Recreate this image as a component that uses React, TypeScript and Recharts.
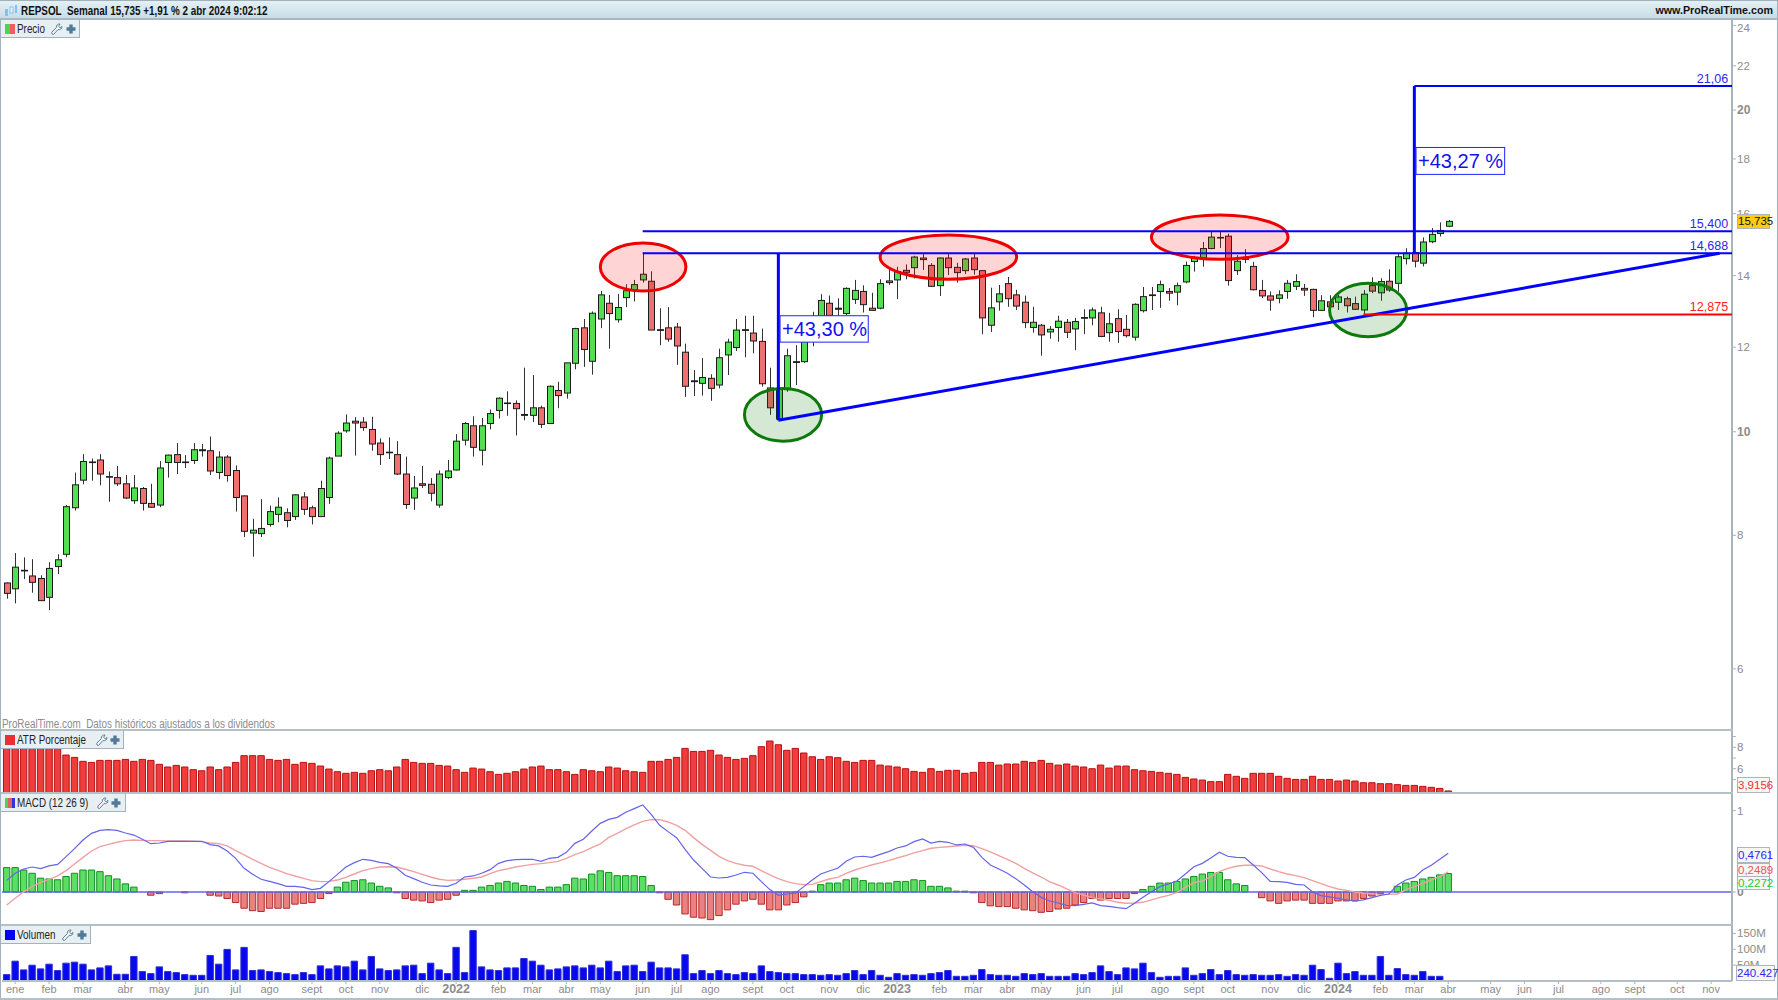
import React from 'react';
import { ComposedChart, Bar, Line, XAxis, YAxis, ReferenceLine, ReferenceArea, ReferenceDot, Cell } from 'recharts';

const opens = [7.22,7.13,7.41,7.33,7.29,7.00,7.48,7.68,8.49,9.01,
9.36,9.41,9.08,9.06,8.94,8.62,8.85,8.57,8.54,9.36,
9.52,9.36,9.40,9.60,9.60,9.16,9.47,9.20,8.71,8.04,
8.03,8.19,8.37,8.40,8.33,8.69,8.49,8.33,8.68,9.49,
10.02,10.23,10.21,10.05,9.76,9.57,9.52,9.13,8.67,8.94,
8.93,8.54,9.06,9.21,9.82,10.13,9.61,10.18,10.47,10.64,
10.63,10.38,10.36,10.53,10.18,10.93,10.87,11.59,12.51,11.64,
12.75,13.19,12.73,13.35,13.57,13.87,13.83,12.46,12.51,12.53,
11.87,11.16,11.10,11.22,11.06,11.80,11.99,12.46,12.37,12.15,
10.99,10.28,10.95,11.61,11.63,12.3,12.65,13.19,13.05,12.9,
13.30,13.53,13.05,13.05,13.84,13.87,14.16,14.24,14.54,14.31,
13.70,14.54,14.25,14.15,14.54,14.15,12.58,13.23,13.76,13.43,
13.22,12.52,12.58,12.40,12.52,12.66,12.48,12.79,12.78,12.92,
12.38,12.76,12.47,12.26,12.98,13.41,13.53,13.53,13.51,13.81,
14.43,14.53,14.84,15.18,15.24,14.15,14.50,14.28,13.56,13.40,
13.33,13.53,13.68,13.62,13.59,12.99,13.23,13.22,13.32,13.18,
13.00,13.70,13.49,13.83,13.77,14.52,14.71,14.38,15.06,15.33,15.57];
const highs = [7.23,7.70,7.63,7.60,7.34,7.55,7.68,8.54,9.16,9.53,
9.44,9.53,9.18,9.29,9.11,9.11,8.88,8.94,9.39,9.52,
9.76,9.51,9.76,9.74,9.90,9.59,9.51,9.30,8.72,8.29,
8.65,8.53,8.68,8.48,8.74,8.78,8.53,9.00,9.48,10.01,
10.38,10.32,10.32,10.33,9.86,9.88,9.80,9.48,9.09,9.29,
9.05,9.20,9.41,9.95,10.21,10.34,10.30,10.49,10.77,10.91,
10.70,11.48,11.30,10.58,11.05,11.14,11.60,12.51,12.75,12.96,
13.55,13.43,13.46,13.74,13.87,14.72,14.13,13.05,13.08,12.64,
12.09,11.42,11.72,11.32,11.96,12.22,12.75,12.84,12.84,12.49,
11.48,11.05,11.96,12.05,12.65,12.95,13.45,13.41,13.33,13.65,
13.87,13.71,13.49,13.89,14.19,14.27,14.34,14.61,14.69,14.38,
14.56,14.69,14.39,14.54,14.69,14.17,13.64,13.72,13.96,13.58,
13.41,13.09,12.61,12.56,12.84,12.75,12.78,13.02,13.07,13.09,
12.92,13.02,12.86,13.19,13.66,13.66,13.85,13.63,13.79,14.43,
14.61,15.05,15.40,15.40,15.32,14.63,14.82,14.42,13.87,13.53,
13.56,13.87,14.04,13.75,13.61,13.42,13.42,13.43,13.38,13.38,
13.57,13.95,13.92,14.19,14.69,14.85,14.74,15.20,15.51,15.70,15.78];
const lows = [6.98,6.91,7.28,7.07,6.95,6.81,7.36,7.63,8.44,8.93,
9.00,8.91,8.60,8.90,8.65,8.56,8.44,8.49,8.50,9.06,
9.13,9.25,9.33,9.48,9.11,9.03,8.98,8.42,7.97,7.64,
7.97,8.15,8.23,8.14,8.27,8.36,8.19,8.33,8.56,9.49,
9.98,9.50,10.02,9.60,9.31,9.43,9.11,8.47,8.45,8.86,
8.61,8.49,9.03,9.20,9.71,9.48,9.30,10.05,10.29,10.35,
9.92,10.25,10.21,10.08,10.18,10.52,10.74,11.44,11.50,11.31,
12.50,11.96,12.65,13.08,13.24,13.79,12.45,12.05,12.14,11.55,
10.78,10.80,10.81,10.69,10.98,11.30,11.90,11.74,11.84,11.02,
10.37,10.25,10.9,11.06,11.6,12.02,12.5,12.6,12.75,12.85,
13.17,12.93,12.98,13.02,13.72,13.31,13.89,13.91,14.17,13.66,
13.40,14.02,13.79,14.05,14.03,12.34,12.40,12.98,13.09,13.00,
12.50,12.38,11.78,12.22,12.14,12.24,11.92,12.34,12.58,12.26,
12.14,12.11,12.25,12.17,12.93,13.00,13.06,13.26,13.13,13.77,
14.12,14.27,14.82,14.86,13.70,14.02,14.38,13.56,13.34,12.98,
13.19,13.32,13.57,13.40,12.80,12.98,12.91,13.00,12.93,13.00,
12.875,13.48,13.26,13.52,13.52,14.34,14.25,14.28,15.01,15.23,15.54];
const closes = [7.06,7.47,7.42,7.23,6.95,7.45,7.59,8.51,8.92,9.38,
9.37,9.13,9.07,8.94,8.67,8.86,8.57,8.50,9.25,9.51,
9.36,9.37,9.62,9.62,9.19,9.47,9.10,8.68,8.07,8.09,
8.12,8.42,8.50,8.26,8.73,8.46,8.33,8.85,9.45,9.97,
10.19,10.19,10.09,9.74,9.52,9.56,9.13,8.55,8.86,8.91,
8.76,9.13,9.19,9.80,10.18,9.67,10.13,10.40,10.75,10.63,
10.51,10.36,10.53,10.16,11.03,10.81,11.60,12.49,11.94,12.91,
13.43,12.90,13.07,13.55,13.73,14.04,12.45,12.44,12.21,12.03,
11.03,11.14,11.24,10.98,11.73,12.13,12.45,12.44,12.16,11.09,
10.53,10.98,11.78,11.63,12.55,12.28,13.27,12.85,13.02,13.62,
13.56,13.15,12.99,13.76,13.79,14.12,14.10,14.57,14.49,13.68,
14.54,14.24,14.09,14.51,14.18,12.78,13.06,13.46,13.32,13.11,
12.65,12.66,12.32,12.47,12.69,12.39,12.68,12.77,13.00,12.28,
12.62,12.41,12.30,13.16,13.38,13.43,13.73,13.48,13.70,14.31,
14.53,14.84,15.21,15.20,13.85,14.44,14.52,13.58,13.40,13.28,
13.43,13.77,13.82,13.57,12.99,13.26,13.09,13.37,13.12,13.02,
13.45,13.54,13.82,13.57,14.58,14.69,14.44,15.05,15.30,15.43,15.735];
const atr = [7.9,7.9,7.9,7.9,7.9,7.9,7.9,7.28,7.06,6.69,
6.59,6.78,6.78,6.78,6.87,6.69,6.87,6.78,6.41,6.16,
6.31,6.16,5.91,5.81,6.16,5.91,6.16,6.59,7.22,7.22,
7.22,6.87,6.78,6.87,6.41,6.59,6.50,6.25,5.97,5.72,
5.57,5.66,5.57,5.81,5.91,5.81,6.16,6.87,6.59,6.50,
6.50,6.31,6.25,5.91,5.66,6.06,5.97,5.72,5.47,5.57,
5.72,5.97,6.16,6.25,5.91,5.91,5.72,5.47,5.91,5.81,
5.72,6.16,6.06,5.81,5.72,5.66,6.69,6.69,6.87,7.06,
7.90,7.62,7.62,7.72,7.28,7.06,6.87,6.97,7.22,8.06,
8.59,8.24,7.72,7.90,7.47,7.12,6.87,7.12,7.03,6.69,
6.59,6.78,6.78,6.34,6.25,6.16,6.00,5.75,5.66,6.00,
5.75,5.85,5.85,5.57,5.66,6.59,6.59,6.34,6.44,6.44,
6.69,6.59,6.78,6.50,6.34,6.44,6.25,6.16,6.00,6.34,
6.06,6.25,6.25,5.91,5.81,5.75,5.66,5.57,5.47,5.19,
5.04,4.94,4.79,4.79,5.47,5.29,5.10,5.57,5.57,5.57,
5.29,5.10,5.00,5.00,5.29,5.00,5.00,4.85,4.94,4.85,
4.69,4.69,4.60,4.60,4.51,4.44,4.44,4.35,4.26,4.16,3.92];
const macdHist = [.30,.30,.27,.23,.17,.16,.15,.19,.23,.27,
.27,.25,.20,.16,.10,.06,0,-.04,-.02,0,
0,-.01,0,0,-.04,-.05,-.08,-.13,-.20,-.23,
-.24,-.20,-.20,-.20,-.15,-.14,-.13,-.08,-.02,.06,
.12,.14,.15,.11,.07,.05,-.01,-.08,-.10,-.11,
-.13,-.10,-.09,-.04,.02,.02,.06,.08,.11,.13,
.11,.08,.07,.03,.06,.06,.09,.17,.16,.22,
.26,.24,.20,.20,.20,.19,.08,-.01,-.09,-.16,
-.27,-.31,-.32,-.34,-.29,-.22,-.15,-.11,-.09,-.15,
-.22,-.22,-.16,-.13,-.06,.01,.09,.11,.11,.15,
.17,.14,.11,.11,.11,.13,.13,.15,.14,.07,
.07,.05,.01,.01,-.01,-.13,-.17,-.18,-.18,-.20,
-.22,-.23,-.25,-.24,-.21,-.20,-.16,-.13,-.08,-.10,
-.08,-.08,-.08,-.02,.03,.07,.11,.11,.13,.16,
.19,.22,.24,.24,.15,.10,.08,0,-.07,-.11,
-.14,-.11,-.10,-.10,-.14,-.14,-.14,-.11,-.11,-.11,
-.08,-.05,-.02,0,.07,.11,.13,.16,.18,.21,.2272];
const macdLine = [.143,.23,.283,.307,.287,.32,.34,.434,.533,.639,
.721,.758,.766,.758,.725,.70,.648,.594,.602,.623,
.623,.623,.623,.623,.582,.566,.504,.414,.291,.217,
.156,.131,.102,.07,.07,.057,.029,.045,.127,.217,
.307,.361,.402,.389,.365,.348,.291,.205,.164,.119,
.086,.074,.07,.107,.184,.197,.23,.275,.352,.385,
.398,.402,.402,.377,.414,.426,.488,.598,.648,.75,
.844,.893,.918,.98,1.025,1.07,.955,.82,.742,.668,
.525,.393,.291,.184,.172,.18,.209,.242,.23,.127,
.029,-.041,-.025,-.016,.066,.148,.221,.258,.291,.377,
.43,.439,.426,.463,.496,.541,.566,.619,.652,.602,
.623,.611,.578,.59,.549,.426,.332,.283,.23,.164,
.086,.004,-.066,-.111,-.135,-.164,-.168,-.152,-.135,-.168,
-.176,-.193,-.205,-.139,-.066,.004,.066,.098,.135,.221,
.311,.352,.418,.488,.439,.426,.422,.332,.238,.131,
.127,.119,.094,.086,0,-.045,-.061,-.078,-.098,-.111,
-.098,-.07,-.041,-.025,.086,.148,.18,.27,.328,.402,.4761];
const macdSignal = [-.16,-.078,.004,.066,.119,.156,.197,.262,.344,.426,
.504,.557,.586,.611,.631,.639,.635,.631,.631,.627,
.627,.627,.623,.619,.602,.594,.566,.508,.455,.402,
.352,.303,.266,.225,.197,.168,.139,.127,.131,.148,
.18,.221,.262,.287,.307,.311,.307,.279,.25,.217,
.184,.156,.143,.148,.156,.168,.184,.225,.262,.283,
.307,.324,.34,.348,.361,.377,.414,.459,.496,.545,
.59,.672,.721,.775,.824,.869,.889,.889,.861,.82,
.758,.668,.586,.512,.439,.385,.352,.328,.316,.262,
.209,.164,.127,.102,.09,.094,.127,.16,.18,.23,
.27,.303,.332,.357,.385,.418,.447,.48,.508,.537,
.549,.557,.566,.574,.57,.533,.492,.447,.402,.352,
.291,.234,.184,.123,.086,.037,-.008,-.037,-.07,-.086,
-.102,-.127,-.139,-.135,-.127,-.098,-.066,-.041,-.004,.057,
.115,.135,.189,.25,.291,.316,.328,.328,.32,.283,
.25,.221,.201,.176,.139,.102,.066,.037,.02,0,
-.016,-.02,-.029,-.029,-.025,.025,.066,.107,.148,.189,.2489];
const volume = [20.1,62.5,35,49.8,38.2,53,32.9,56.2,59.4,53,
35,41.3,47.7,21.2,21.2,77.4,29.7,23.3,44.5,29.7,
26.5,20.1,18,18,80.6,53,99.6,35,106,32.9,
35,29.7,26.5,23.3,20.1,26.5,20.1,47.7,38.2,47.7,
44.5,62.5,35,77.4,38.2,32.9,35,47.7,49.8,23.3,
56.2,35,23.3,106,26.5,159,44.5,35,32.9,41.3,
41.3,71,62.5,49.8,35,38.2,44.5,47.7,41.3,49.8,
41.3,62.5,29.7,47.7,49.8,29.7,59.4,41.3,41.3,38.2,
82.7,23.3,32.9,23.3,32.9,23.3,20.1,26.5,23.3,47.7,
29.7,26.5,23.3,23.3,20.1,20.1,18,20.1,18,23.3,
32.9,20.1,32.9,18,11.7,23.3,18,20.1,18,23.3,
26.5,32.9,14.8,14.8,18,36,20.1,18,18,14.8,
23.3,20.1,23.3,14.8,14.8,14.8,23.3,20.1,26.5,47.7,
29.7,20.1,41.3,38.2,56.2,26.5,11.7,14.8,14.8,41.3,
18,23.3,36,20.1,32.9,20.1,18,20.1,18,18,
20.1,14.8,20.1,18,49.8,36,8.5,56.2,23.3,29.7,
18,18,77.4,18,39.2,20.1,18,29.7,14.8,14.8,.24];

const monthTicks = [1,5,9,14,18,23,27,31,36,40,44,49,53,58,62,66,70,75,79,83,88,92,97,101,105,110,114,118,122,127,131,136,140,144,149,153,157,162,166,170,175,179,183,188,192,197,201];
const monthLabels = ['ene','feb','mar','abr','may','jun','jul','ago','sept','oct','nov','dic','2022','feb','mar','abr','may','jun','jul','ago','sept','oct','nov','dic','2023','feb','mar','abr','may','jun','jul','ago','sept','oct','nov','dic','2024','feb','mar','abr','may','jun','jul','ago','sept','oct','nov'];

const priceTicks = [6,8,10,12,14,16,18,20,22,24];
const atrTicks = [5,6,7,8,9];
const macdTicks = [0,1];
const volTicks = [50,100,150];

const W = 1778;
const xDomain: [number, number] = [-0.554, 203.46];
const priceDomain: [number, number] = [5.26, 24.28];
const FONT = '"Liberation Sans", Arial, sans-serif';
const BLUE = '#0000ff';
const GREY = '#8c8c8c';

const priceRows = opens.map((o, i) => ({ i, o, h: highs[i], l: lows[i], c: closes[i], range: [lows[i], highs[i]] }));
const atrRows = atr.map((v, i) => ({ i, v }));
const macdRows = macdHist.map((hist, i) => ({ i, hist, line: macdLine[i], signal: macdSignal[i] }));
const volRows = volume.map((v, i) => ({ i, v }));

const Candle = (p: any) => {
  const { x, y, width, height, payload } = p;
  const { o, c, h, l } = payload;
  const span = Math.log(h / l) || 1;
  const at = (v: number) => y + (height * Math.log(h / v)) / span;
  const cx = Math.round(x + width / 2) + 0.5;
  const top = at(Math.max(o, c));
  const bot = at(Math.min(o, c));
  const up = c >= o;
  return (
    <g>
      <line x1={cx} x2={cx} y1={y} y2={y + height} stroke="#333" strokeWidth={1} />
      <rect x={cx - 3} y={top} width={6} height={Math.max(bot - top, 0.6)} fill={up ? '#52e052' : '#ee7070'} stroke="#1c1c1c" strokeWidth={1} />
    </g>
  );
};

const axisTick = (labels: (v: number) => string | null, bold: number[] = [], topValue: number | null = null) => (p: any) => {
  const { x, y, payload } = p;
  const s = labels(payload.value);
  if (s === null) return <g />;
  const b = bold.includes(payload.value);
  const nudge = payload.value === topValue ? 7 : 4;
  return (
    <text x={x} y={y + nudge} fontFamily={FONT} fontSize={b ? 12 : 11.5} fontWeight={b ? 700 : 400} fill={GREY} textAnchor="start">{s}</text>
  );
};

const XTick = (p: any) => {
  const { x, y, index } = p;
  const s = monthLabels[index];
  const year = /^\d{4}$/.test(s);
  return (
    <text x={x} y={y + 9} fontFamily={FONT} fontSize={year ? 12.5 : 11} fontWeight={year ? 700 : 400} fill={GREY} textAnchor="middle">{s}</text>
  );
};

const ellipseShape = (stroke: string, fill: string) => (p: any) => (
  <ellipse cx={p.x + p.width / 2} cy={p.y + p.height / 2} rx={p.width / 2} ry={p.height / 2} fill={fill} stroke={stroke} strokeWidth={3} />
);

const boxShape = (text: string) => (p: any) => (
  <g>
    <rect x={p.x} y={p.y} width={p.width} height={p.height} fill="#fff" stroke="#2222ff" strokeWidth={1} />
    <text x={p.x + 2} y={p.y + p.height / 2 + 7} fontFamily={FONT} fontSize={20} fill="#1212ee">{text}</text>
  </g>
);

const levelLabel = (text: string, color: string) => (p: any) => (
  <text x={p.cx} y={p.cy - 3} textAnchor="end" fontFamily={FONT} fontSize={12.5} fill={color}>{text}</text>
);

const Panel = ({ top, height, children, z = 1 }: any) => (
  <div style={{ position: 'absolute', left: 0, top, width: W, height, zIndex: z, pointerEvents: 'none' }}>{children}</div>
);

const Squeezed = ({ left, top, bold, color, ratio = 0.823, children }: any) => (
  <span style={{ position: 'absolute', left, top, fontFamily: FONT, fontSize: 12, fontWeight: bold ? 700 : 400, color, whiteSpace: 'pre', transform: `scaleX(${ratio})`, transformOrigin: 'left center' }}>{children}</span>
);

const Wrench = ({ x }: { x: number }) => (
  <svg style={{ position: 'absolute', left: x, top: 3 }} width={12} height={12} viewBox="0 0 12 12">
    <path d="M1 11 L2.5 11.5 L7 6.5 C9 7.2 11 5.8 11 3.5 L9.2 4.8 L7.6 3.4 L9 1 C6.8 0.6 5 2.4 5.4 4.6 L0.8 9.2 Z" fill="#f4f8fa" stroke="#5a7f98" strokeWidth={1} />
  </svg>
);
const Plus = ({ x }: { x: number }) => (
  <svg style={{ position: 'absolute', left: x, top: 4 }} width={10} height={10} viewBox="0 0 10 10">
    <path d="M3.3 0.5 H6.7 V3.3 H9.5 V6.7 H6.7 V9.5 H3.3 V6.7 H0.5 V3.3 H3.3 Z" fill="#4f7a99" />
  </svg>
);

const LegendBox = ({ top, width, text, swatch, wrench, plus }: any) => (
  <div style={{ position: 'absolute', left: 1, top, width, height: 17, background: '#e8eff3', border: '1px solid #a3b3bd', borderLeft: 'none', borderTop: 'none', zIndex: 5 }}>
    <div style={{ position: 'absolute', left: 4, top: 4, width: 10, height: 10, background: swatch }} />
    <Squeezed left={16} top={2} color="#222">{text}</Squeezed>
    <Wrench x={wrench} />
    <Plus x={plus} />
  </div>
);

const ValueBox = ({ top, height, left = 1737, width = 33, text, color, bg = '#f6f6f6', z = 6 }: any) => (
  <div style={{ position: 'absolute', left, top, width, height, boxSizing: 'border-box', background: bg, border: '1px solid #aab5bc', fontFamily: FONT, fontSize: 11.5, lineHeight: `${height - 2}px`, color, textAlign: 'center', zIndex: z }}>{text}</div>
);

const Sep = ({ top }: { top: number }) => (
  <div style={{ position: 'absolute', left: 0, top, width: 1733, height: 2, background: '#b4bfc6', zIndex: 4 }} />
);

const xAxisHidden = <XAxis type="number" dataKey="i" domain={xDomain} allowDataOverflow hide />;
const yLine = { stroke: '#a9b5bc', strokeWidth: 2 };
const yTickLine = { stroke: '#a9b5bc' };

export default function App() {
  return (
    <div style={{ position: 'absolute', left: 0, top: 0, width: W, height: 1000, background: '#fff', overflow: 'hidden' }}>
      <Panel top={20} height={710}>
        <ComposedChart width={W} height={710} data={priceRows} margin={{ top: 0, right: 0, bottom: 0, left: 2 }}>
          {xAxisHidden}
          <YAxis orientation="right" width={46} scale="log" domain={priceDomain} allowDataOverflow ticks={priceTicks} interval={0} axisLine={yLine} tickLine={yTickLine} tickSize={4} tickMargin={1}
            tick={axisTick((v) => String(v), [10, 20], 24)} />
          <Bar dataKey="range" barSize={7} shape={Candle} isAnimationActive={false} />
        </ComposedChart>
      </Panel>

      <Panel top={20} height={710} z={2}>
        <ComposedChart width={W} height={710} data={priceRows} margin={{ top: 0, right: 0, bottom: 0, left: 2 }}>
          {xAxisHidden}
          <YAxis orientation="right" width={46} scale="log" domain={priceDomain} allowDataOverflow ticks={priceTicks} interval={0} axisLine={false} tickLine={false} tick={false} />
          <Line dataKey="c" stroke="none" dot={false} activeDot={false} isAnimationActive={false} />
          <ReferenceArea x1={70} x2={80.1} y1={13.54} y2={15.02} shape={ellipseShape('#ee0000', 'rgba(255,0,0,0.17)')} ifOverflow="visible" />
          <ReferenceArea x1={103} x2={119.1} y1={13.89} y2={15.28} shape={ellipseShape('#ee0000', 'rgba(255,0,0,0.17)')} ifOverflow="visible" />
          <ReferenceArea x1={135} x2={151.1} y1={14.5} y2={15.95} shape={ellipseShape('#ee0000', 'rgba(255,0,0,0.17)')} ifOverflow="visible" />
          <ReferenceArea x1={87} x2={96.1} y1={9.8} y2={10.98} shape={ellipseShape('#0b7a0b', 'rgba(0,120,0,0.17)')} ifOverflow="visible" />
          <ReferenceArea x1={156} x2={165.1} y1={12.27} y2={13.77} shape={ellipseShape('#0b7a0b', 'rgba(0,120,0,0.17)')} ifOverflow="visible" />
          <ReferenceLine segment={[{ x: 75, y: 15.4 }, { x: 203.46, y: 15.4 }]} stroke={BLUE} strokeWidth={2} ifOverflow="visible" />
          <ReferenceLine segment={[{ x: 75, y: 14.688 }, { x: 203.46, y: 14.688 }]} stroke={BLUE} strokeWidth={2} ifOverflow="visible" />
          <ReferenceLine segment={[{ x: 91, y: 14.688 }, { x: 91, y: 10.25 }]} stroke={BLUE} strokeWidth={3} ifOverflow="visible" />
          <ReferenceLine segment={[{ x: 91, y: 10.25 }, { x: 202, y: 14.688 }]} stroke={BLUE} strokeWidth={3} ifOverflow="visible" />
          <ReferenceLine segment={[{ x: 166, y: 14.688 }, { x: 166, y: 21.06 }]} stroke={BLUE} strokeWidth={3} ifOverflow="visible" />
          <ReferenceLine segment={[{ x: 166, y: 21.06 }, { x: 203.46, y: 21.06 }]} stroke={BLUE} strokeWidth={2} ifOverflow="visible" />
          <ReferenceLine segment={[{ x: 160, y: 12.875 }, { x: 203.46, y: 12.875 }]} stroke="#ff0000" strokeWidth={2} ifOverflow="visible" />
          <ReferenceDot x={203} y={21.06} r={0} shape={levelLabel('21,06', '#2a2aee')} ifOverflow="visible" />
          <ReferenceDot x={203} y={15.4} r={0} shape={levelLabel('15,400', '#2a2aee')} ifOverflow="visible" />
          <ReferenceDot x={203} y={14.688} r={0} shape={levelLabel('14,688', '#2a2aee')} ifOverflow="visible" />
          <ReferenceDot x={203} y={12.875} r={0} shape={levelLabel('12,875', '#ff2020')} ifOverflow="visible" />
        </ComposedChart>
      </Panel>

      <Panel top={20} height={710} z={3}>
        <ComposedChart width={W} height={710} data={priceRows} margin={{ top: 0, right: 0, bottom: 0, left: 2 }}>
          {xAxisHidden}
          <YAxis orientation="right" width={46} scale="log" domain={priceDomain} allowDataOverflow ticks={priceTicks} interval={0} axisLine={false} tickLine={false} tick={false} />
          <Line dataKey="c" stroke="none" dot={false} activeDot={false} isAnimationActive={false} />
          <ReferenceArea x1={91.2} x2={101.6} y1={12.13} y2={12.84} shape={boxShape('+43,30 %')} ifOverflow="visible" />
          <ReferenceArea x1={166.2} x2={176.65} y1={17.41} y2={18.45} shape={boxShape('+43,27 %')} ifOverflow="visible" />
        </ComposedChart>
      </Panel>

      <Panel top={730} height={63}>
        <ComposedChart width={W} height={63} data={atrRows} margin={{ top: 0, right: 0, bottom: 0, left: 2 }}>
          {xAxisHidden}
          <YAxis orientation="right" width={46} domain={[3.73, 9.62]} allowDataOverflow ticks={atrTicks} interval={0} axisLine={yLine} tickLine={yTickLine} tickSize={4} tickMargin={1}
            tick={axisTick((v) => (v === 6 || v === 8 ? String(v) : null))} />
          <Bar dataKey="v" barSize={6.4} fill="#f03c3c" stroke="#b80f0f" strokeWidth={1} isAnimationActive={false} />
        </ComposedChart>
      </Panel>

      <Panel top={793} height={132}>
        <ComposedChart width={W} height={132} data={macdRows} margin={{ top: 0, right: 0, bottom: 0, left: 2 }}>
          {xAxisHidden}
          <YAxis orientation="right" width={46} domain={[-0.406, 1.217]} allowDataOverflow ticks={macdTicks} interval={0} axisLine={yLine} tickLine={yTickLine} tickSize={4} tickMargin={1}
            tick={axisTick((v) => String(v), [0])} />
          <Bar dataKey="hist" barSize={6.4} strokeWidth={1} isAnimationActive={false}>
            {macdHist.map((v, k) => (
              <Cell key={k} fill={v >= 0 ? '#5ade64' : '#ea8080'} stroke={v >= 0 ? '#128f1e' : '#b52a2a'} />
            ))}
          </Bar>
          <ReferenceLine y={0} stroke="#6464ea" strokeWidth={1.6} />
          <Line dataKey="signal" stroke="#f0a0a0" strokeWidth={1.4} dot={false} isAnimationActive={false} />
          <Line dataKey="line" stroke="#6464ea" strokeWidth={1.2} dot={false} isAnimationActive={false} />
        </ComposedChart>
      </Panel>

      <Panel top={925} height={75}>
        <ComposedChart width={W} height={75} data={volRows} margin={{ top: 0, right: 0, bottom: 0, left: 2 }}>
          <XAxis type="number" dataKey="i" domain={xDomain} allowDataOverflow ticks={monthTicks} interval={0} height={19} tick={XTick} tickSize={3} tickMargin={0} axisLine={{ stroke: '#b4bfc6', strokeWidth: 2 }} tickLine={{ stroke: '#a9b5bc' }} />
          <YAxis orientation="right" width={46} domain={[0, 176.5]} allowDataOverflow ticks={volTicks} interval={0} axisLine={yLine} tickLine={yTickLine} tickSize={4} tickMargin={1}
            tick={axisTick((v) => `${v}M`)} />
          <Bar dataKey="v" barSize={6.4} fill="#0808f0" stroke="#3030d0" strokeWidth={1} isAnimationActive={false} />
        </ComposedChart>
      </Panel>

      <div style={{ position: 'absolute', left: 0, top: 0, width: W, height: 20, boxSizing: 'border-box', background: 'linear-gradient(#e4f0f5,#c8dde7)', borderTop: '1px solid #9fb0bb', borderBottom: '2px solid #a9b7c0', zIndex: 4 }}>
        <svg style={{ position: 'absolute', left: 4, top: 2 }} width={14} height={15} viewBox="0 0 14 15">
          <rect x={1} y={6} width={3} height={7} fill="#7fc4ea" /><rect x={6} y={4} width={3} height={6} fill="#eaf6fb" stroke="#7fc4ea" /><rect x={11} y={2} width={2} height={8} fill="#7fc4ea" />
        </svg>
        <Squeezed left={21} top={3} bold color="#111">REPSOL  Semanal 15,735 +1,91 % 2 abr 2024 9:02:12</Squeezed>
        <span style={{ position: 'absolute', right: 5, top: 3, fontFamily: FONT, fontSize: 10.7, fontWeight: 700, color: '#111' }}>www.ProRealTime.com</span>
      </div>

      <LegendBox top={20} width={78} text="Precio" swatch="linear-gradient(90deg,#4fd44f 50%,#ee6060 50%)" wrench={50} plus={65} />
      <LegendBox top={731} width={122} text="ATR Porcentaje" swatch="#e83030" wrench={95} plus={109} />
      <LegendBox top={794} width={124} text="MACD (12 26 9)" swatch="linear-gradient(90deg,#4fd44f 33%,#e06060 33%,#e06060 66%,#3030e0 66%)" wrench={96} plus={110} />
      <LegendBox top={926} width={89} text="Volumen" swatch="#0000f0" wrench={61} plus={76} />

      <div style={{ position: 'absolute', left: 0, top: 0, zIndex: 4 }}>
        <Squeezed left={2} top={717} color="#8c8c8c">ProRealTime.com  Datos históricos ajustados a los dividendos</Squeezed>
      </div>

      <Sep top={729} /><Sep top={792} /><Sep top={924} />
      <div style={{ position: 'absolute', left: 0, top: 20, width: 1, height: 980, background: '#a3b3bd', zIndex: 4 }} />
      <div style={{ position: 'absolute', right: 0, top: 0, width: 1, height: 1000, background: '#a3b3bd', zIndex: 4 }} />
      <div style={{ position: 'absolute', left: 0, top: 998, width: W, height: 2, background: '#b4bfc6', zIndex: 4 }} />

      <ValueBox top={214} height={15} text="15,735" color="#111" bg="#ffcc11" />
      <ValueBox top={777} height={16} text="3,9156" color="#f03030" />
      <ValueBox top={847} height={16} text="0,4761" color="#2a2aee" />
      <ValueBox top={863} height={14} text="0,2489" color="#ee5555" />
      <ValueBox top={876} height={14} text="0,2272" color="#22cc33" />
      <ValueBox top={965} height={16} left={1736} width={39} text="240.427" color="#2a2aee" />
    </div>
  );
}
